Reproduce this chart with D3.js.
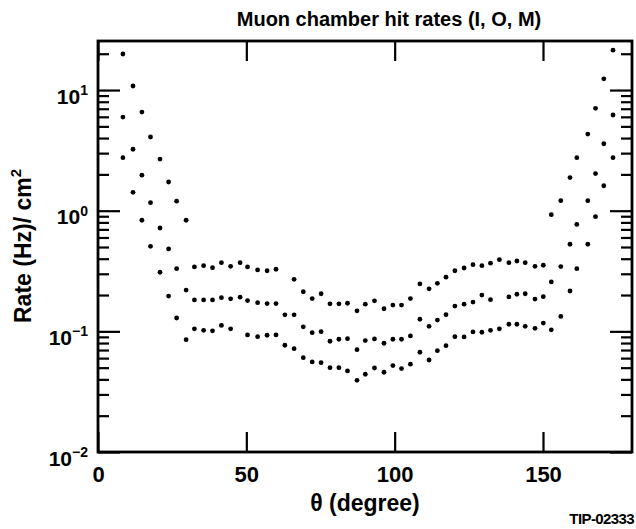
<!DOCTYPE html>
<html>
<head>
<meta charset="utf-8">
<script src="https://cdn.jsdelivr.net/npm/d3@7"></script>
<style>
  body { margin: 0; background: #fff; }
  text { font-family: "Liberation Sans", Arial, sans-serif; font-weight: bold; fill: #000; }
</style>
</head>
<body>
<div id="chart"></div>
<script>
var width = 636, height = 529
var margin = {top: 41, right: 4, bottom: 77, left: 98}

// polar angle of each chamber column (degrees)
var theta = [8.4, 11.8, 14.8, 17.7, 20.9, 23.8, 26.5, 29.7, 32.5, 35.6,
  38.6, 41.6, 44.7, 47.9, 50.4, 53.8, 57.0, 60.0, 63.0, 66.1,
  69.2, 72.2, 75.2, 78.2, 81.2, 84.1, 87.3, 90.1, 93.2, 96.4,
  99.4, 102.3, 105.3, 108.5, 111.6, 114.4, 117.3, 120.3, 123.4, 126.4,
  129.4, 132.3, 135.3, 138.5, 141.2, 144.0, 147.3, 150.1, 152.8, 156.0,
  159.1, 161.4, 165.1, 167.7, 170.5, 173.6]

// hit rates, Hz/cm^2 (null = no point drawn)
var rateI = [19.9, 10.8, 6.57, 4.08, 2.68, 1.73, 1.20, 0.833, 0.342, 0.350,
  0.337, 0.371, 0.346, 0.371, 0.342, 0.323, 0.318, 0.327, null, 0.270,
  0.213, 0.187, 0.205, 0.169, 0.169, 0.171, 0.148, 0.168, 0.179, 0.154,
  0.165, 0.165, 0.187, 0.247, 0.225, 0.250, 0.281, 0.318, 0.335, 0.357,
  0.350, 0.367, 0.393, 0.371, 0.383, 0.371, 0.346, 0.353, 0.927, 1.21,
  1.88, 2.75, 4.32, 7.05, 12.4, 21.4]

var rateO = [5.97, 3.23, 1.97, 1.165, 0.719, 0.482, 0.331, 0.220, 0.182, 0.182,
  0.182, 0.190, 0.186, 0.192, 0.180, 0.173, 0.170, 0.170, 0.137, 0.137,
  0.109, 0.0975, 0.0994, 0.0828, 0.0860, 0.0870, 0.0705, 0.0838, 0.0865, 0.0797,
  0.0860, 0.0860, 0.0916, 0.126, 0.110, 0.124, 0.1375, 0.162, 0.168, 0.175,
  0.200, 0.183, null, 0.193, 0.203, 0.205, 0.185, 0.194, 0.257, 0.344,
  0.527, 0.769, 1.21, 2.03, 3.59, 6.21]

var rateM = [2.75, 1.42, 0.833, 0.507, 0.309, 0.196, 0.129, 0.0853, 0.105, 0.102,
  0.101, 0.112, 0.105, null, 0.0934, 0.0904, 0.0928, 0.0934, 0.0767, 0.0719,
  0.0605, 0.0558, 0.0550, 0.0500, 0.0500, 0.0470, 0.0393, 0.0441, 0.0497, 0.0458,
  0.0520, 0.0491, 0.0534, 0.0671, 0.0579, 0.0692, 0.0761, 0.0904, 0.0899, 0.0989,
  0.0983, 0.102, 0.105, 0.1145, 0.1145, 0.110, 0.106, 0.117, 0.103, 0.133,
  0.216, 0.331, 0.527, 0.892, 1.61, 2.75]

var xTicks = [0, 50, 100, 150]
var yMajor = [0.01, 0.1, 1, 10]
var yExp = ["\u22122", "\u22121", "0", "1"]
var yMinor = [0.02, 0.03, 0.04, 0.05, 0.06, 0.07, 0.08, 0.09,
  0.2, 0.3, 0.4, 0.5, 0.6, 0.7, 0.8, 0.9,
  2, 3, 4, 5, 6, 7, 8, 9, 20]

var svg = d3.select("#chart")
  .append("svg")
    .attr("width", width)
    .attr("height", height)

var x = d3.scaleLinear()
  .domain([0, 180])
  .range([margin.left, width - margin.right])

var y = d3.scaleLog()
  .domain([0.01, 25.5])
  .range([height - margin.bottom, margin.top])

var x0 = margin.left, x1 = width - margin.right
var y0 = height - margin.bottom, y1 = margin.top

// bottom axis with labels, inward ticks
var xAxisB = svg.append("g")
  .attr("transform", `translate(0,${y0})`)
  .call(d3.axisBottom(x).tickValues(xTicks).tickSize(-20).tickPadding(14).tickSizeOuter(0))
xAxisB.selectAll("text").style("font-size", "22px")

// top axis, ticks only
svg.append("g")
  .attr("transform", `translate(0,${y1})`)
  .call(d3.axisTop(x).tickValues(xTicks).tickSize(-20).tickFormat("").tickSizeOuter(0))

// left axis
var yAxisL = svg.append("g")
  .attr("transform", `translate(${x0},0)`)
  .call(d3.axisLeft(y).tickValues(yMajor).tickSize(-22).tickPadding(10).tickSizeOuter(0))
svg.append("g")
  .attr("transform", `translate(${x0},0)`)
  .call(d3.axisLeft(y).tickValues(yMinor).tickSize(-11).tickFormat("").tickSizeOuter(0))

yAxisL.selectAll("text")
  .style("font-size", "21px")
  .attr("dy", "0.62em")
  .each(function(d, i) {
    var t = d3.select(this)
    t.text(null)
    t.append("tspan").text("10")
    t.append("tspan").attr("dy", "-0.62em").style("font-size", "14px").text(yExp[i])
  })

// right axis, ticks only
svg.append("g")
  .attr("transform", `translate(${x1},0)`)
  .call(d3.axisRight(y).tickValues(yMajor).tickSize(-22).tickFormat("").tickSizeOuter(0))
svg.append("g")
  .attr("transform", `translate(${x1},0)`)
  .call(d3.axisRight(y).tickValues(yMinor).tickSize(-11).tickFormat("").tickSizeOuter(0))

svg.selectAll(".tick line").attr("stroke", "#000").attr("stroke-width", 2.2)
svg.selectAll(".domain").remove()

// frame
svg.append("rect")
  .attr("x", x0)
  .attr("y", y1)
  .attr("width", x1 - x0)
  .attr("height", y0 - y1)
  .attr("fill", "none")
  .attr("stroke", "#000")
  .attr("stroke-width", 2.8)

// points
var series = [rateI, rateO, rateM]
series.forEach(function(vals) {
  var pts = theta.map(function(t, i) { return {t: t, v: vals[i]} })
    .filter(function(d) { return d.v != null })
  svg.append("g").selectAll("circle")
    .data(pts)
    .enter()
    .append("circle")
      .attr("cx", function(d) { return x(d.t) })
      .attr("cy", function(d) { return y(d.v) })
      .attr("r", 2.4)
      .attr("fill", "#000")
})

svg.append("text")
  .attr("x", 389)
  .attr("y", 26)
  .attr("text-anchor", "middle")
  .style("font-size", "20px")
  .text("Muon chamber hit rates (I, O, M)")

svg.append("text")
  .attr("x", 365)
  .attr("y", 511)
  .attr("text-anchor", "middle")
  .style("font-size", "23px")
  .text("\u03b8 (degree)")

var yl = svg.append("text")
  .attr("transform", "translate(31,246) rotate(-90)")
  .attr("text-anchor", "middle")
  .style("font-size", "23px")
yl.append("tspan").text("Rate (Hz)/ cm")
yl.append("tspan").attr("dy", "-0.65em").style("font-size", "15px").text("2")

svg.append("text")
  .attr("x", 634)
  .attr("y", 524)
  .attr("text-anchor", "end")
  .style("font-size", "15px")
  .style("letter-spacing", "-0.6px")
  .text("TIP-02333")
</script>
</body>
</html>
